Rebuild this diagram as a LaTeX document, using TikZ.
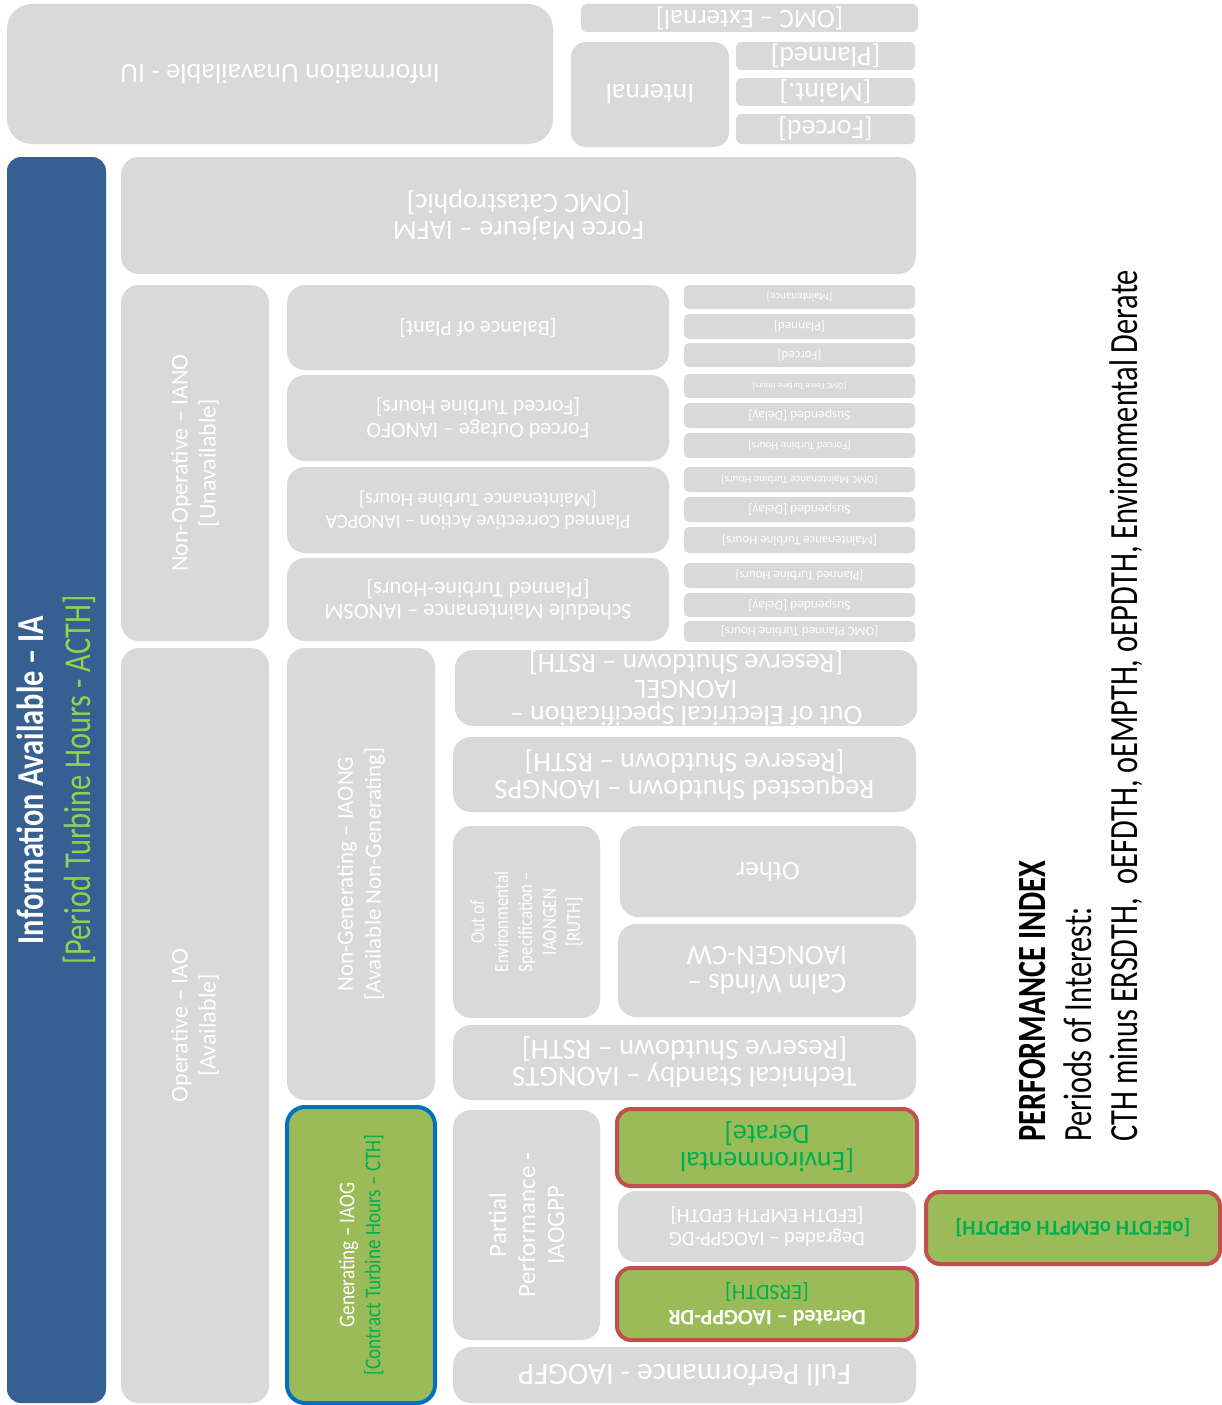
\documentclass[tikz,border=0pt]{standalone}
\usepackage{fontspec}
\setmainfont{Carlito}
\newfontfamily\condf[FakeStretch=0.80]{Carlito}
\newfontfamily\picondf[FakeStretch=0.76]{Carlito}
\newfontfamily\semicondf[FakeStretch=0.85]{Carlito}
\definecolor{gfill}{HTML}{D9D9D9}
\definecolor{iablue}{HTML}{376092}
\definecolor{lgreen}{HTML}{9BBB59}
\definecolor{tgreen}{HTML}{00B050}
\definecolor{ygreen}{HTML}{92D050}
\definecolor{rborder}{HTML}{C0504D}
\definecolor{bborder}{HTML}{0070C0}
\newcommand\fsz[2]{\fontsize{#1}{#2}\selectfont}
\newcommand{\flipbox}[7][]{%
 \pgfmathsetmacro\bxcx{(#3+#5)/2}%
 \pgfmathsetmacro\bxcy{(#4+#6)/2}%
 \pgfmathsetmacro\bxww{#5-#3}%
 \pgfmathsetmacro\bxhh{#6-#4}%
 \node[gbox,rotate=180,minimum width=\bxww pt,minimum height=\bxhh pt,#1] (#2) at (\bxcx,\bxcy) {#7};}
\newcommand{\upbox}[7][]{%
 \pgfmathsetmacro\bxcx{(#3+#5)/2}%
 \pgfmathsetmacro\bxcy{(#4+#6)/2}%
 \pgfmathsetmacro\bxww{#5-#3}%
 \pgfmathsetmacro\bxhh{#6-#4}%
 \node[gbox,rotate=90,minimum width=\bxhh pt,minimum height=\bxww pt,#1] (#2) at (\bxcx,\bxcy) {#7};}
\tikzset{
 gbox/.style={fill=gfill,draw=none,rounded corners=18pt,inner sep=0pt,outer sep=0pt,
   text=white,align=center,font=\fsz{23}{26}},
 smb/.style={rounded corners=5pt},
 grn/.style={fill=lgreen,draw=rborder,line width=4pt,rounded corners=14pt},
 genb/.style={fill=lgreen,draw=bborder,line width=4pt,rounded corners=18pt},
}
\begin{document}
\begin{tikzpicture}[x=1pt,y=-1pt]
\fill[white] (0,0) rectangle (1222,1405);
\useasboundingbox (0,0) rectangle (1222,1405);
% top
\flipbox[rounded corners=25pt,font=\fsz{28}{30}]{iu}{7}{4}{553}{144}{Information Unavailable - IU}
\flipbox[smb,rounded corners=6pt,font=\fsz{27}{28}]{ext}{581}{4}{918}{32}{[OMC – External]}
\flipbox[rounded corners=15pt,font=\fsz{28}{30}]{int}{571}{42}{729}{147}{Internal}
\flipbox[rounded corners=6pt,font=\fsz{28}{28}]{pln}{736}{42}{915}{70}{[Planned]}
\flipbox[rounded corners=6pt,font=\fsz{28}{28}]{mnt}{736}{78}{915}{106}{[Maint.]}
\flipbox[rounded corners=6pt,font=\fsz{28}{28}]{frc}{736}{114}{915}{144}{[Forced]}
% IA
\upbox[fill=iablue,rounded corners=14pt,font=\condf\fsz{38}{47}]{ia}{7}{157}{106}{1403}{\textbf{Information Available – IA}\\\textcolor{ygreen}{[Period Turbine Hours - ACTH]}}
\flipbox[font=\fsz{28}{27}]{fm}{121}{157}{916}{274}{Force Majeure – IAFM\\{}[OMC Catastrophic]}
\upbox[font=\fsz{24}{28}]{nop}{121}{285}{269}{641}{Non-Operative – IANO\\{}[Unavailable]}
\upbox[font=\fsz{24}{28}]{op}{121}{648}{269}{1403}{Operative – IAO\\{}[Available]}
% non-operative column
\flipbox[font=\fsz{22}{24}]{bop}{287}{285}{669}{370}{[Balance of Plant]}
\flipbox[font=\fsz{22}{23}]{fo}{287}{375}{669}{461}{Forced Outage – IANOFO\\{}[Forced Turbine Hours]}
\flipbox[font=\fsz{20}{22}]{pca}{287}{467}{669}{553}{Planned Corrective Action – IANOPCA\\{}[Maintenance Turbine Hours]}
\flipbox[font=\fsz{22.5}{22}]{sm}{287}{558}{669}{641}{Schedule Maintenance – IANOSM\\{}[Planned Turbine-Hours]}
% small boxes
\flipbox[smb,font=\fsz{11}{12}]{s1}{684}{285}{915}{309}{[Maintenance]}
\flipbox[smb,font=\fsz{13}{14}]{s2}{684}{314}{915}{339}{[Planned]}
\flipbox[smb,font=\fsz{13}{14}]{s3}{684}{343}{915}{367}{[Forced]}
\flipbox[smb,font=\fsz{8.5}{9}]{s4}{684}{374}{915}{398}{[OMC Force Turbine Hours]}
\flipbox[smb,font=\fsz{13.5}{14}]{s5}{684}{403}{915}{428}{Suspended [Delay]}
\flipbox[smb,font=\fsz{11}{12}]{s6}{684}{433}{915}{458}{[Forced Turbine Hours]}
\flipbox[smb,font=\fsz{11}{12}]{s7}{684}{467}{915}{492}{[OMC Maintenance Turbine Hours]}
\flipbox[smb,font=\fsz{13.5}{14}]{s8}{684}{497}{915}{522}{Suspended [Delay]}
\flipbox[smb,font=\fsz{13}{14}]{s9}{684}{527}{915}{553}{[Maintenance Turbine Hours]}
\flipbox[smb,font=\fsz{13}{14}]{s10}{684}{563}{915}{588}{[Planned Turbine Hours]}
\flipbox[smb,font=\fsz{13.5}{14}]{s11}{684}{593}{915}{617}{Suspended [Delay]}
\flipbox[smb,font=\fsz{13}{14}]{s12}{684}{621}{915}{642}{[OMC Planned Turbine Hours]}
% operative
\upbox[font=\fsz{23}{28}]{ng}{287}{648}{435}{1100}{Non-Generating – IAONG\\{}[Available Non-Generating]}
\flipbox[font=\fsz{28}{26}]{oel}{455}{650}{917}{726}{Out of Electrical Specification –\\IAONGEL\\{}[Reserve Shutdown – RSTH]}
\flipbox[font=\fsz{28.5}{27}]{rs}{453}{737}{916}{812}{Requested Shutdown – IAONGPS\\{}[Reserve Shutdown – RSTH]}
\upbox[font=\semicondf\fsz{20}{24}]{oes}{453}{826}{600}{1018}{Out of\\Environmental\\Specification –\\IAONGEN\\{}[RUTH]}
\flipbox[font=\fsz{27}{27}]{oth}{620}{826}{916}{917}{Other}
\flipbox[font=\fsz{28.5}{28}]{cw}{618}{924}{916}{1017}{Calm Winds –\\IAONGEN-CW}
\flipbox[font=\fsz{29}{27}]{ts}{453}{1025}{916}{1100}{Technical Standby – IAONGTS\\{}[Reserve Shutdown – RSTH]}
% generating
\upbox[genb,font=\semicondf\fsz{22.5}{26}]{gen}{287}{1107}{435}{1403}{Generating – IAOG\\\textcolor{tgreen}{[Contract Turbine Hours – CTH]}}
\upbox[font=\fsz{25}{29}]{pp}{453}{1110}{600}{1340}{Partial\\Performance -\\IAOGPP}
\flipbox[grn,text=tgreen,font=\fsz{28}{27}]{ed}{617}{1109}{917}{1186}{[Environmental\\Derate]}
\flipbox[font=\fsz{20.5}{23}]{dg}{618}{1191}{916}{1262}{Degraded – IAOGPP-DG\\{}[EFDTH EMPTH EPDTH]}
\flipbox[grn,font=\fsz{22}{25}]{dr}{617}{1268}{917}{1340}{\textbf{Derated – IAOGPP-DR}\\\textcolor{tgreen}{[ERSDTH]}}
\flipbox[font=\fsz{31}{31}]{fp}{453}{1347}{916}{1403}{Full Performance - IAOGFP}
\flipbox[grn,text=tgreen,font=\bfseries\fsz{21}{22}]{oe}{926}{1192}{1220}{1264}{[oEFDTH oEMPTH oEPDTH]}
% performance index
\node[rotate=90,anchor=base west,align=left,inner sep=0pt,font=\picondf\fsz{40}{46}] (pi) at (1137,1142)
 {\textbf{PERFORMANCE INDEX}\\Periods of Interest:\\CTH minus ERSDTH,\ \ oEFDTH, oEMPTH, oEPDTH, Environmental Derate};
\end{tikzpicture}
\end{document}
